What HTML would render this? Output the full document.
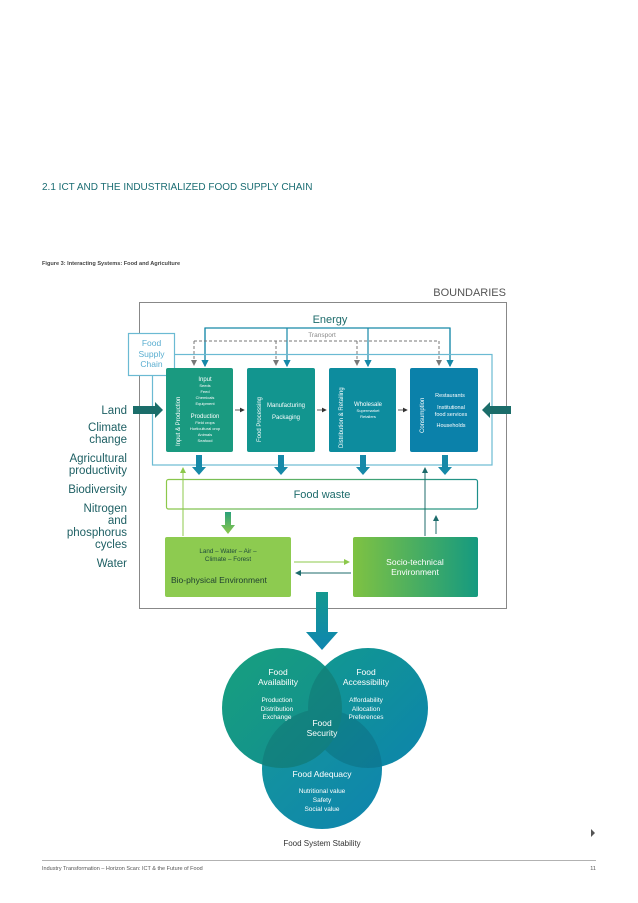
<!DOCTYPE html>
<html><head><meta charset="utf-8"><style>
html,body{margin:0;padding:0;background:#fff}
svg{display:block;font-family:"Liberation Sans",sans-serif}
</style></head><body>
<svg width="638" height="903" viewBox="0 0 638 903" xmlns="http://www.w3.org/2000/svg">
<defs>
<linearGradient id="socio" x1="0" x2="1" y1="0" y2="0"><stop offset="0" stop-color="#7fc242"/><stop offset="1" stop-color="#159a80"/></linearGradient>
<linearGradient id="fw" x1="0" x2="1"><stop offset="0" stop-color="#8cc84b"/><stop offset="1" stop-color="#1c8f8a"/></linearGradient>
<linearGradient id="garr" x1="0" y1="0" x2="0" y2="1"><stop offset="0" stop-color="#2aa07a"/><stop offset="1" stop-color="#8cc84b"/></linearGradient>
<linearGradient id="barr" x1="0" y1="0" x2="0" y2="1"><stop offset="0" stop-color="#14988f"/><stop offset="1" stop-color="#0f86b0"/></linearGradient>
<linearGradient id="c1" x1="0" y1="0" x2="1" y2="1"><stop offset="0" stop-color="#17a07e"/><stop offset="1" stop-color="#128c92"/></linearGradient>
<linearGradient id="c2" x1="0" y1="0" x2="1" y2="1"><stop offset="0" stop-color="#12998f"/><stop offset="1" stop-color="#0d84ac"/></linearGradient>
<linearGradient id="c3" x1="0" y1="0" x2="1" y2="1"><stop offset="0" stop-color="#15979a"/><stop offset="1" stop-color="#0e84ae"/></linearGradient>
<clipPath id="k1"><circle cx="282" cy="708" r="60"/></clipPath>
<clipPath id="k2"><circle cx="368" cy="708" r="60"/></clipPath>
<marker id="ah" markerWidth="6" markerHeight="6" refX="5" refY="3" orient="auto"><path d="M0,0 L6,3 L0,6z" fill="#1689a8"/></marker>
<marker id="ahg" markerWidth="6" markerHeight="6" refX="5" refY="3" orient="auto"><path d="M0,0 L6,3 L0,6z" fill="#777"/></marker>
<marker id="ahgr" markerWidth="6" markerHeight="6" refX="5" refY="3" orient="auto"><path d="M0,0 L6,3 L0,6z" fill="#8cc84b"/></marker>
<marker id="ahd" markerWidth="6" markerHeight="6" refX="5" refY="3" orient="auto"><path d="M0,0 L6,3 L0,6z" fill="#1d6b6b"/></marker>
<marker id="ahk" markerWidth="6" markerHeight="6" refX="5" refY="3" orient="auto"><path d="M0,0 L6,3 L0,6z" fill="#333"/></marker>
</defs>

<text x="42" y="190" font-size="10" fill="#1a6d73">2.1 ICT AND THE INDUSTRIALIZED FOOD SUPPLY CHAIN</text>
<text x="42" y="265" font-size="5.6" font-weight="bold" fill="#444">Figure 3: Interacting Systems: Food and Agriculture</text>

<text x="506" y="296" font-size="11" fill="#555" text-anchor="end">BOUNDARIES</text>
<rect x="139.5" y="302.5" width="367" height="306" fill="none" stroke="#888" stroke-width="1"/>

<text x="330" y="323" font-size="11" fill="#1d6b6b" text-anchor="middle">Energy</text>
<text x="322" y="337" font-size="6.5" fill="#888" text-anchor="middle">Transport</text>

<polyline points="205,366 205,328 450,328 450,366" fill="none" stroke="#1689a8" stroke-width="1.2"/>
<line x1="205" y1="328" x2="205" y2="366" stroke="#1689a8" stroke-width="1.2" marker-end="url(#ah)"/>
<line x1="287" y1="328" x2="287" y2="366" stroke="#1689a8" stroke-width="1.2" marker-end="url(#ah)"/>
<line x1="368" y1="328" x2="368" y2="366" stroke="#1689a8" stroke-width="1.2" marker-end="url(#ah)"/>
<line x1="450" y1="328" x2="450" y2="366" stroke="#1689a8" stroke-width="1.2" marker-end="url(#ah)"/>
<line x1="194" y1="341" x2="439" y2="341" stroke="#777" stroke-dasharray="3,2"/>
<line x1="194" y1="341" x2="194" y2="365" stroke="#777" stroke-dasharray="3,2" marker-end="url(#ahg)"/>
<line x1="276" y1="341" x2="276" y2="365" stroke="#777" stroke-dasharray="3,2" marker-end="url(#ahg)"/>
<line x1="357" y1="341" x2="357" y2="365" stroke="#777" stroke-dasharray="3,2" marker-end="url(#ahg)"/>
<line x1="439" y1="341" x2="439" y2="365" stroke="#777" stroke-dasharray="3,2" marker-end="url(#ahg)"/>

<rect x="152.5" y="354.5" width="339.5" height="110.5" fill="none" stroke="#6bbad3" stroke-width="1.2"/>
<rect x="128.5" y="333.5" width="46" height="42" fill="#fff" stroke="#6bbad3" stroke-width="1.2"/>
<text font-size="8.5" fill="#5aaed0" text-anchor="middle"><tspan x="151.5" y="346">Food</tspan><tspan x="151.5" y="357">Supply</tspan><tspan x="151.5" y="367">Chain</tspan></text>

<rect x="166" y="368" width="67" height="84" rx="2" fill="#1a9a80"/>
<rect x="247" y="368" width="68" height="84" rx="2" fill="#12958f"/>
<rect x="329" y="368" width="67" height="84" rx="2" fill="#0d8c9e"/>
<rect x="410" y="368" width="68" height="84" rx="2" fill="#0b81aa"/>
<g fill="#fff" font-size="6">
<text transform="translate(180,446) rotate(-90)">Input &amp; Production</text>
<text transform="translate(261,442) rotate(-90)">Food Processing</text>
<text transform="translate(343,448) rotate(-90)">Distribution &amp; Retailing</text>
<text transform="translate(424,433) rotate(-90)">Consumption</text>
</g>
<g fill="#fff" text-anchor="middle">
<text x="205" y="381" font-size="6">Input</text>
<text font-size="4"><tspan x="205" y="387">Seeds</tspan><tspan x="205" y="393">Feed</tspan><tspan x="205" y="399">Chemicals</tspan><tspan x="205" y="405">Equipment</tspan></text>
<text x="205" y="418" font-size="6">Production</text>
<text font-size="4"><tspan x="205" y="424">Field crops</tspan><tspan x="205" y="430">Horticultural crop</tspan><tspan x="205" y="436">Animals</tspan><tspan x="205" y="442">Seafood</tspan></text>
<text x="286" y="407" font-size="6">Manufacturing</text>
<text x="286" y="419" font-size="6">Packaging</text>
<text x="368" y="406" font-size="6">Wholesale</text>
<text font-size="4"><tspan x="368" y="412">Supermarket</tspan><tspan x="368" y="418">Retailers</tspan></text>
<text x="450" y="397" font-size="5.5">Restaurants</text>
<text font-size="5.5"><tspan x="451" y="409">Institutional</tspan><tspan x="451" y="416">food services</tspan></text>
<text x="451" y="427" font-size="5.5">Households</text>
</g>
<line x1="235" y1="410" x2="244" y2="410" stroke="#333" stroke-width="0.8" marker-end="url(#ahk)"/>
<line x1="317" y1="410" x2="326" y2="410" stroke="#333" stroke-width="0.8" marker-end="url(#ahk)"/>
<line x1="398" y1="410" x2="407" y2="410" stroke="#333" stroke-width="0.8" marker-end="url(#ahk)"/>

<path d="M133,406 H155 V402 L163,410 L155,418 V414 H133z" fill="#1b6d6a"/>
<path d="M511,406 H490 V402 L482,410 L490,418 V414 H511z" fill="#1b6d6a"/>

<g fill="#1689a8">
<path d="M196,455 h6 v12 h4 l-7,8 l-7,-8 h4z"/>
<path d="M278,455 h6 v12 h4 l-7,8 l-7,-8 h4z"/>
<path d="M360,455 h6 v12 h4 l-7,8 l-7,-8 h4z"/>
<path d="M442,455 h6 v12 h4 l-7,8 l-7,-8 h4z"/>
</g>

<rect x="166.5" y="479.5" width="311" height="29.5" rx="2" fill="#fff" stroke="url(#fw)" stroke-width="1.2"/>
<text x="322" y="498" font-size="11" fill="#1d6b6b" text-anchor="middle">Food waste</text>
<path d="M225,512 h6 v13 h4 l-7,9 l-7,-9 h4z" fill="url(#garr)"/>

<rect x="165" y="537" width="126" height="60" rx="2" fill="#8dcb50"/>
<text font-size="6.3" fill="#1e4a3a" text-anchor="middle"><tspan x="228" y="553">Land – Water – Air –</tspan><tspan x="228" y="561">Climate – Forest</tspan></text>
<text x="171" y="583" font-size="8.5" fill="#1e3e30">Bio-physical Environment</text>
<rect x="353" y="537" width="125" height="60" rx="2" fill="url(#socio)"/>
<text font-size="8.5" fill="#fff" text-anchor="middle"><tspan x="415" y="565">Socio-technical</tspan><tspan x="415" y="575">Environment</tspan></text>

<line x1="294" y1="562" x2="349" y2="562" stroke="#8cc84b" stroke-width="1" marker-end="url(#ahgr)"/>
<line x1="351" y1="573" x2="296" y2="573" stroke="#1d6b6b" stroke-width="1" marker-end="url(#ahd)"/>
<line x1="183" y1="536" x2="183" y2="468" stroke="#8cc84b" stroke-width="1" marker-end="url(#ahgr)"/>
<line x1="425" y1="536" x2="425" y2="468" stroke="#1d6b6b" stroke-width="1" marker-end="url(#ahd)"/>
<line x1="436" y1="534" x2="436" y2="516" stroke="#1d6b6b" stroke-width="1" marker-end="url(#ahd)"/>

<g font-size="11.5" fill="#1d5f63" text-anchor="end">
<text x="127" y="414">Land</text>
<text x="127" y="431">Climate</text><text x="127" y="443">change</text>
<text x="127" y="462">Agricultural</text><text x="127" y="474">productivity</text>
<text x="127" y="493">Biodiversity</text>
<text x="127" y="512">Nitrogen</text><text x="127" y="524">and</text><text x="127" y="536">phosphorus</text><text x="127" y="548">cycles</text>
<text x="127" y="567">Water</text>
</g>

<path d="M316,592 h12 v40 h10 l-16,18 l-16,-18 h10z" fill="url(#barr)"/>
<circle cx="322" cy="769" r="60" fill="url(#c3)"/>
<circle cx="368" cy="708" r="60" fill="url(#c2)"/>
<circle cx="282" cy="708" r="60" fill="url(#c1)"/>
<g fill="#0a3a4a" opacity="0.18">
<circle cx="368" cy="708" r="60" clip-path="url(#k1)"/>
<circle cx="322" cy="769" r="60" clip-path="url(#k1)"/>
<circle cx="322" cy="769" r="60" clip-path="url(#k2)"/>
</g>
<g fill="#fff" text-anchor="middle">
<text font-size="8.5"><tspan x="278" y="675">Food</tspan><tspan x="278" y="685">Availability</tspan></text>
<text font-size="6.5"><tspan x="277" y="702">Production</tspan><tspan x="277" y="711">Distribution</tspan><tspan x="277" y="719">Exchange</tspan></text>
<text font-size="8.5"><tspan x="366" y="675">Food</tspan><tspan x="366" y="685">Accessibility</tspan></text>
<text font-size="6.5"><tspan x="366" y="702">Affordability</tspan><tspan x="366" y="711">Allocation</tspan><tspan x="366" y="719">Preferences</tspan></text>
<text font-size="8.5"><tspan x="322" y="726">Food</tspan><tspan x="322" y="736">Security</tspan></text>
<text x="322" y="777" font-size="8.5">Food Adequacy</text>
<text font-size="6.5"><tspan x="322" y="793">Nutritional value</tspan><tspan x="322" y="802">Safety</tspan><tspan x="322" y="811">Social value</tspan></text>
</g>
<text x="322" y="846" font-size="8" fill="#333" text-anchor="middle">Food System Stability</text>
<path d="M591,829 l4,4 l-4,4z" fill="#555"/>

<line x1="42" y1="860.5" x2="596" y2="860.5" stroke="#999" stroke-width="0.8"/>
<text x="42" y="870" font-size="5.5" fill="#555">Industry Transformation – Horizon Scan: ICT &amp; the Future of Food</text>
<text x="596" y="870" font-size="5.5" fill="#555" text-anchor="end">11</text>
</svg>
</body></html>
